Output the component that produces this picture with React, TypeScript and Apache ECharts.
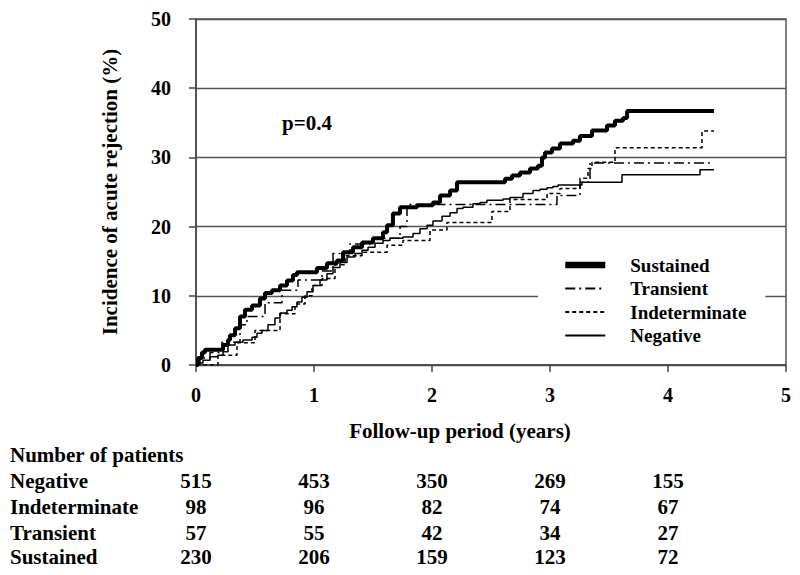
import React, { useEffect, useRef } from 'react';
import * as echarts from 'echarts';

const FONT = "'Liberation Serif', 'Times New Roman', serif";

// Kaplan-Meier style cumulative incidence (%) — event times (years) and values
const sustainedT = [0, 0.017, 0.051, 0.076, 0.229, 0.271, 0.288, 0.331, 0.373, 0.415, 0.475, 0.542, 0.585, 0.644, 0.712, 0.771, 0.822, 0.856, 1.025, 1.11, 1.195, 1.246, 1.331, 1.407, 1.5, 1.585, 1.619, 1.669, 1.729, 1.873, 2.008, 2.068, 2.153, 2.212, 2.619, 2.678, 2.746, 2.831, 2.898, 2.932, 2.958, 3.017, 3.085, 3.195, 3.254, 3.356, 3.483, 3.551, 3.619, 3.653, 4.39];
const sustainedV = [0, 1.0, 1.8, 2.2, 2.9, 3.6, 4.3, 5.3, 7.0, 8.0, 8.6, 9.6, 10.4, 10.8, 11.5, 12.2, 13.0, 13.4, 14.0, 14.7, 15.1, 16.3, 17.0, 17.7, 18.3, 19.2, 20.2, 21.9, 22.8, 23.1, 23.5, 24.5, 25.2, 26.4, 26.9, 27.4, 27.8, 28.4, 28.8, 30.0, 30.7, 31.3, 32.0, 32.4, 33.1, 33.9, 34.6, 35.3, 35.7, 36.7, 36.7];

const transientT = [0, 0.034, 0.119, 0.22, 0.373, 0.432, 0.585, 0.729, 0.864, 1.068, 1.161, 1.305, 1.492, 1.729, 1.788, 3.059, 3.254, 3.339, 4.39];
const transientV = [0, 1.0, 1.8, 3.3, 5.8, 7.0, 9.0, 10.8, 12.3, 13.6, 16.1, 17.5, 18.3, 20.0, 23.2, 24.5, 26.4, 29.2, 29.2];

const indeterminateT = [0, 0.186, 0.347, 0.5, 0.712, 0.839, 0.924, 0.983, 1.068, 1.178, 1.263, 1.407, 1.619, 1.754, 1.983, 2.127, 2.508, 2.661, 2.975, 3.085, 3.254, 3.322, 3.356, 3.551, 4.288, 4.39];
const indeterminateV = [0, 1.4, 3.2, 5.0, 7.4, 8.8, 10.0, 11.5, 12.5, 14.5, 15.8, 16.3, 17.3, 18.0, 19.5, 20.6, 22.2, 23.9, 24.8, 25.5, 27.0, 28.4, 29.3, 31.4, 33.8, 33.8];

const negativeT = [0, 0.008, 0.059, 0.119, 0.186, 0.229, 0.271, 0.331, 0.398, 0.475, 0.517, 0.559, 0.61, 0.669, 0.712, 0.771, 0.814, 0.856, 0.898, 0.941, 0.992, 1.051, 1.11, 1.161, 1.22, 1.28, 1.347, 1.407, 1.458, 1.517, 1.585, 1.644, 1.754, 1.839, 1.898, 1.958, 2.008, 2.085, 2.153, 2.212, 2.263, 2.347, 2.407, 2.466, 2.602, 2.661, 2.771, 2.856, 2.915, 2.975, 3.025, 3.068, 3.271, 3.61, 4.271, 4.39];
const negativeV = [0, 0.3, 0.7, 1.2, 1.4, 1.9, 2.9, 3.3, 3.6, 4.0, 4.6, 5.0, 5.8, 6.8, 7.5, 7.9, 8.4, 9.1, 9.8, 10.6, 11.5, 12.3, 13.2, 14.1, 14.8, 15.6, 16.1, 16.6, 17.0, 17.6, 18.0, 18.3, 18.5, 19.0, 19.7, 20.2, 20.8, 21.5, 22.0, 22.6, 22.8, 23.3, 23.5, 23.8, 24.0, 24.2, 24.8, 25.2, 25.4, 25.6, 25.8, 26.0, 26.4, 27.5, 28.2, 28.2];

// Number-at-risk table
const tableYears = [0, 1, 2, 3, 4];
const tableLabels = ['Negative', 'Indeterminate', 'Transient', 'Sustained'];
const negativeN = [515, 453, 350, 269, 155];
const indeterminateN = [98, 96, 82, 74, 67];
const transientN = [57, 55, 42, 34, 27];
const sustainedN = [230, 206, 159, 123, 72];

const pair = (t: number[], v: number[]) => t.map((x, i) => [x, v[i]]);

export default function App() {
  const ref = useRef<HTMLDivElement>(null);
  useEffect(() => {
    document.body.style.margin = '0';
    const chart = echarts.init(ref.current!, null, { renderer: 'svg' });
    const txt = { fontFamily: FONT, fontWeight: 'bold' as const, color: '#000' };
    const option: any = {
      animation: false,
      backgroundColor: '#fff',
      grid: { left: 196, right: 14, top: 19, bottom: 210, show: true, borderColor: '#555', borderWidth: 1.5, backgroundColor: 'transparent' },
      xAxis: {
        type: 'value', min: 0, max: 5, interval: 1,
        axisLine: { show: true, lineStyle: { color: '#444', width: 1.5 } },
        axisTick: { show: true, inside: false, length: 7, lineStyle: { color: '#444', width: 1.5 } },
        axisLabel: { ...txt, fontSize: 20, margin: 20 },
        splitLine: { show: false },
      },
      yAxis: {
        type: 'value', min: 0, max: 50, interval: 10,
        axisLine: { show: true, lineStyle: { color: '#444', width: 1.5 } },
        axisTick: { show: true, inside: false, length: 7, lineStyle: { color: '#444', width: 1.5 } },
        axisLabel: { ...txt, fontSize: 20, margin: 25 },
        splitLine: { show: true, lineStyle: { color: '#555', width: 1.3 } },
      },
      legend: {
        orient: 'vertical', left: 538, top: 250,
        padding: [5, 19, 5, 24],
        backgroundColor: '#fff',
        itemWidth: 40, itemHeight: 14, itemGap: 3.5,
        itemStyle: { opacity: 0, borderWidth: 0 },
        textStyle: { ...txt, fontSize: 19, lineHeight: 20, padding: [0, 0, 0, 20] },
        data: [
          { name: 'Sustained', lineStyle: { width: 6.5 } },
          { name: 'Transient', lineStyle: { width: 2 } },
          { name: 'Indeterminate', lineStyle: { width: 2 } },
          { name: 'Negative', lineStyle: { width: 2 } },
        ],
      },
      series: [
        { name: 'Negative', type: 'line', step: 'end', symbol: 'none', data: pair(negativeT, negativeV), lineStyle: { color: '#000', width: 1.5, type: 'solid' }, itemStyle: { color: '#000' }, z: 2 },
        { name: 'Indeterminate', type: 'line', step: 'end', symbol: 'none', data: pair(indeterminateT, indeterminateV), lineStyle: { color: '#000', width: 1.5, type: [4, 3] }, itemStyle: { color: '#000' }, z: 3 },
        { name: 'Transient', type: 'line', step: 'end', symbol: 'none', data: pair(transientT, transientV), lineStyle: { color: '#000', width: 1.5, type: [10, 4, 2, 4] }, itemStyle: { color: '#000' }, z: 4 },
        { name: 'Sustained', type: 'line', step: 'end', symbol: 'none', data: pair(sustainedT, sustainedV), lineStyle: { color: '#000', width: 4, type: 'solid' }, itemStyle: { color: '#000' }, z: 5 },
      ],
    };
    chart.setOption(option);

    const colX = tableYears.map((y) => chart.convertToPixel({ xAxisIndex: 0 }, y) as number);
    const rowsN = [negativeN, indeterminateN, transientN, sustainedN];
    const rowY = [481, 507, 533, 557];
    const textStyle = (extra: any) => ({ fontFamily: FONT, fontWeight: 'bold', fontSize: 21, fill: '#000', ...extra });
    const graphic: any[] = [
      { type: 'text', x: 282, y: 123, style: textStyle({ text: 'p=0.4', textAlign: 'left', textVerticalAlign: 'middle' }) },
      { type: 'text', x: 460, y: 431, style: textStyle({ text: 'Follow-up period (years)', textAlign: 'center', textVerticalAlign: 'middle' }) },
      { type: 'text', x: 110, y: 192, rotation: Math.PI / 2, style: textStyle({ text: 'Incidence of acute rejection (%)', textAlign: 'center', textVerticalAlign: 'middle' }) },
      { type: 'text', x: 10, y: 455, style: textStyle({ text: 'Number of patients', textAlign: 'left', textVerticalAlign: 'middle' }) },
    ];
    tableLabels.forEach((lab, r) => {
      graphic.push({ type: 'text', x: 10, y: rowY[r], style: textStyle({ text: lab, textAlign: 'left', textVerticalAlign: 'middle' }) });
      rowsN[r].forEach((n, c) => {
        graphic.push({ type: 'text', x: colX[c], y: rowY[r], style: textStyle({ text: String(n), textAlign: 'center', textVerticalAlign: 'middle' }) });
      });
    });
    chart.setOption({ graphic });
    return () => chart.dispose();
  }, []);
  return <div ref={ref} style={{ width: 800, height: 575 }} />;
}
